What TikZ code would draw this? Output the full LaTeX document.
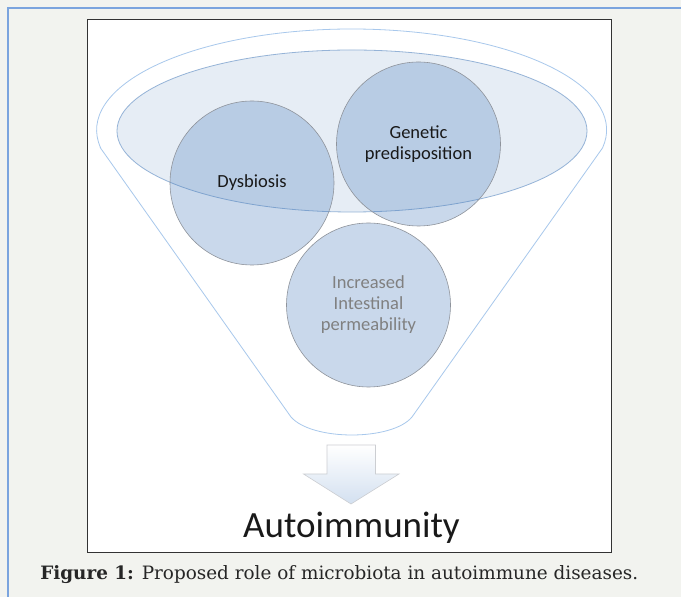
\documentclass[tikz,border=0pt]{standalone}
\usepackage{fontspec}
\setmainfont{Carlito}
\newfontfamily\captionfont{DejaVu Serif}
\usetikzlibrary{positioning}

\definecolor{pagegray}{HTML}{F2F3EF}
\definecolor{rimblue}{HTML}{7BA4DE}
\definecolor{funnelblue}{HTML}{A8C8EC}
\definecolor{officeblue}{HTML}{4F81BD}
\definecolor{ringgray}{HTML}{8E939B}
\definecolor{textgray}{HTML}{808080}
\definecolor{arrowblue}{HTML}{D3E0F0}

\begin{document}
\begin{tikzpicture}[x=1pt,y=1pt,semithick]
    \tikzstyle{factor}=[circle,draw=ringgray,line width=0.6pt,fill=officeblue,fill opacity=0.3,text opacity=1,minimum size=164pt,inner sep=0pt,align=center,text=black!90,font=\fontsize{18.5}{21}\selectfont]
    \tikzstyle{pool}=[draw=officeblue!60,fill=officeblue,fill opacity=0.14,line width=0.8pt]
    \tikzstyle{funnel}=[draw=funnelblue,line width=0.8pt]
    \tikzstyle{block}=[top color=white,bottom color=arrowblue,draw=ringgray!45,line width=0.6pt]

    \useasboundingbox (0,0) rectangle (681,597);
    \fill[pagegray] (0,0) rectangle (681,597);
    \draw[rimblue,line width=1.2pt] (8,0) -- (8,589) -- (681,589);
    \draw[black!80,fill=white,line width=0.9pt] (87,45) rectangle (611,577.5);

    % funnel outline and the pool inside it
    \path[funnel] (100.5,449) -- (291,180) .. controls (312,156) and (392,156) .. (412,180) -- (602.5,449)
        arc[start angle=-10.27,end angle=190.27,x radius=255,y radius=101] -- cycle;
    \path[pool] (352,466) ellipse [x radius=235,y radius=81];

    \node[factor] (dysbiosis) at (252,414) {Dysbiosis};
    \node[factor] (genetic) at (418.5,453) {Genetic\\predisposition};
    \node[factor,text=textgray] (permeability) at (368.5,292) {Increased\\Intestinal\\permeability};

    % arrow out of the spout
    \shadedraw[block] (327,152) -- (375.5,152) -- (375.5,123) -- (399,123) -- (351,93) -- (303.5,123) -- (327,123) -- cycle;
    \node[font=\fontsize{37}{44}\selectfont,text=black!90,anchor=base] (outcome) at (351.5,59) {Autoimmunity};

    \node[anchor=base west,inner sep=0pt,text=black!85,font=\captionfont\fontsize{18.4}{22}\selectfont] (caption) at (40,17)
        {\textbf{Figure 1:} Proposed role of microbiota in autoimmune diseases.};
\end{tikzpicture}
\end{document}
